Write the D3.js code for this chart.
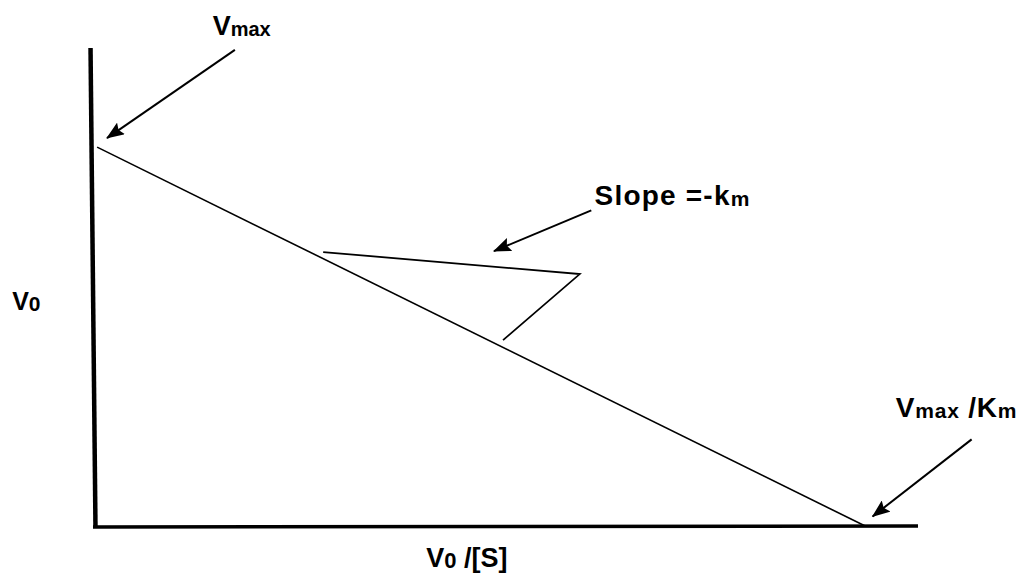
<!DOCTYPE html>
<html>
<head>
<meta charset="utf-8">
<script src="https://cdn.jsdelivr.net/npm/d3@7"></script>
<style>
  html, body { margin: 0; padding: 0; background: #fff; }
  svg { display: block; }
  text { font-family: "Liberation Sans", Arial, sans-serif; font-weight: bold; fill: #000; }
</style>
</head>
<body>
<svg id="chart" width="1026" height="575"></svg>
<script>
// ---- data (diagram coordinates, unitless 0..10) ----
const yAxisPts = [{x: -0.03, y: 10}, {x: 0.03, y: 0}];
const xAxisPts = [{x: 0, y: 0}, {x: 10, y: 0.02}];
const linePts = [{x: 0.05, y: 7.93}, {x: 9.36, y: 0.02}];
const trianglePts = [{x: 2.79, y: 5.74}, {x: 5.90, y: 5.28}, {x: 4.97, y: 3.90}];
const arrows = [
  {from: {x: 1.72, y: 9.96}, to: {x: 0.17, y: 8.12}},
  {from: {x: 6.04, y: 6.61}, to: {x: 4.86, y: 5.76}},
  {from: {x: 10.65, y: 1.83}, to: {x: 9.45, y: 0.22}}
];
const labels = [
  {main: "V", sub: "max", rest: "", x: 1.45, y: 10.27, size: 27, subSize: 20, ls: 0},
  {main: "Slope =-k", sub: "m", rest: "", x: 6.08, y: 6.72, size: 28, subSize: 21, ls: 1.2},
  {main: "V", sub: "0", rest: "", x: -0.98, y: 4.52, size: 25, subSize: 21, ls: 0},
  {main: "V", sub: "max", rest: " /K", sub2: "m", x: 9.73, y: 2.29, size: 28, subSize: 21, ls: 0.8},
  {main: "V", sub: "0", rest: " /[S]", x: 4.04, y: -0.83, size: 27, subSize: 22, ls: 0}
];

// ---- scales ----
const x = d3.scaleLinear().domain([0, 10]).range([93, 918]);
const y = d3.scaleLinear().domain([0, 10]).range([527, 48]);

const svg = d3.select("#chart");

svg.append("defs").append("marker")
  .attr("id", "head")
  .attr("viewBox", "0 0 18 14")
  .attr("refX", 17).attr("refY", 7)
  .attr("markerWidth", 18).attr("markerHeight", 14)
  .attr("markerUnits", "userSpaceOnUse")
  .attr("orient", "auto")
  .append("path").attr("d", "M0,0 L18,7 L0,14 L3,7 Z").attr("fill", "#000");

const line = d3.line().x(d => x(d.x)).y(d => y(d.y));

// axes
svg.append("path").attr("d", line(yAxisPts)).attr("stroke", "#000").attr("stroke-width", 4.5).attr("fill", "none");
svg.append("path").attr("d", line(xAxisPts)).attr("stroke", "#000").attr("stroke-width", 3.5).attr("fill", "none");

// main line
svg.append("path").attr("d", line(linePts)).attr("stroke", "#000").attr("stroke-width", 1.6).attr("fill", "none");

// slope triangle
svg.append("path").attr("d", line(trianglePts)).attr("stroke", "#000").attr("stroke-width", 1.8).attr("fill", "none");

// arrows
svg.selectAll("line.arrow").data(arrows).enter().append("line")
  .attr("class", "arrow")
  .attr("x1", d => x(d.from.x)).attr("y1", d => y(d.from.y))
  .attr("x2", d => x(d.to.x)).attr("y2", d => y(d.to.y))
  .attr("stroke", "#000").attr("stroke-width", 2)
  .attr("marker-end", "url(#head)");

// labels
labels.forEach(l => {
  const t = svg.append("text").attr("x", x(l.x)).attr("y", y(l.y))
    .attr("font-size", l.size).attr("letter-spacing", l.ls);
  t.append("tspan").text(l.main);
  t.append("tspan").attr("font-size", l.subSize).attr("dy", 1).text(l.sub);
  if (l.rest) t.append("tspan").attr("dy", -1).text(l.rest);
  if (l.sub2) t.append("tspan").attr("font-size", l.subSize).attr("dy", 1).text(l.sub2);
});
</script>
</body>
</html>
